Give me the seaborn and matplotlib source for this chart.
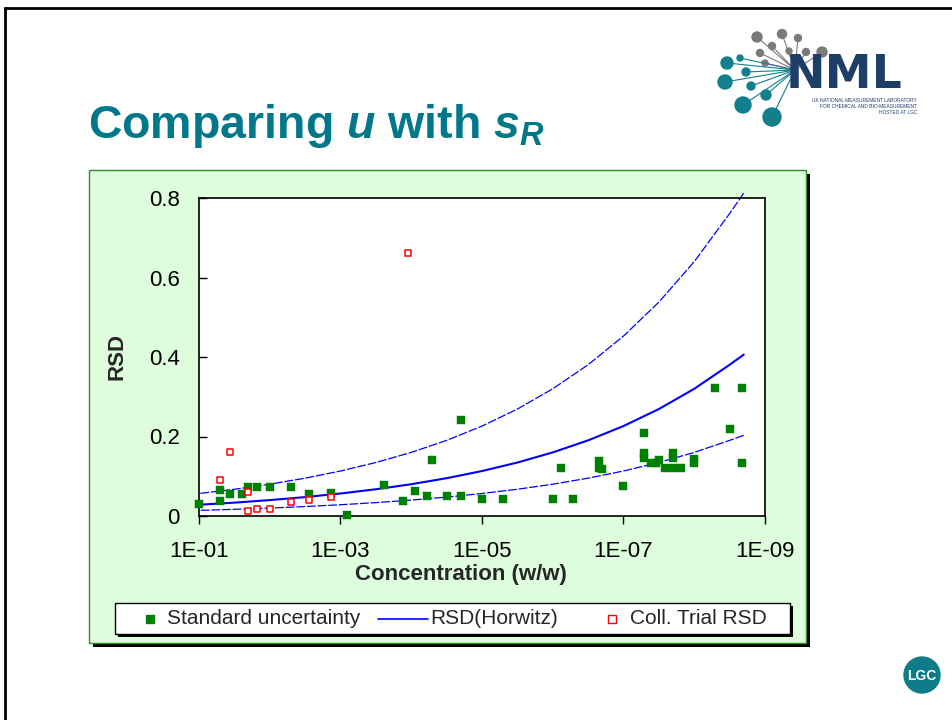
import numpy as np
import pandas as pd
import matplotlib
matplotlib.use("Agg")
import matplotlib.pyplot as plt
import seaborn as sns
from matplotlib.patches import Rectangle, Circle
from matplotlib.ticker import FixedLocator, FixedFormatter, NullLocator

# ---- data -------------------------------------------------------------
# Standard uncertainty (relative) against mass-fraction concentration
su_conc = [1.0e-1, 5.0e-2, 5.0e-2, 3.65e-2, 2.5e-2, 2.0e-2, 1.5e-2, 1.0e-2,
           5.0e-3, 2.75e-3, 1.35e-3, 8.1e-4, 2.45e-4, 1.29e-4, 8.9e-5, 6.0e-5,
           5.1e-5, 3.1e-5, 2.0e-5, 2.0e-5, 1.0e-5, 5.1e-6, 1.0e-6, 7.6e-7,
           5.1e-7, 2.2e-7, 2.2e-7, 2.0e-7, 1.0e-7, 5.1e-8, 5.1e-8, 5.1e-8,
           4.1e-8, 3.5e-8, 3.1e-8, 2.6e-8, 2.0e-8, 2.0e-8, 2.0e-8, 1.55e-8,
           1.0e-8, 1.0e-8, 5.1e-9, 3.1e-9, 2.1e-9, 2.1e-9]
su_rsd = [0.031, 0.065, 0.038, 0.055, 0.055, 0.072, 0.072, 0.072,
          0.072, 0.055, 0.057, 0.002, 0.077, 0.038, 0.063, 0.051,
          0.140, 0.051, 0.051, 0.241, 0.043, 0.043, 0.043, 0.122,
          0.043, 0.139, 0.122, 0.119, 0.076, 0.208, 0.159, 0.145,
          0.133, 0.133, 0.141, 0.120, 0.159, 0.145, 0.122, 0.121,
          0.144, 0.133, 0.321, 0.219, 0.321, 0.133]

# Collaborative trial reproducibility RSD
ct_conc = [5.0e-2, 3.65e-2, 2.0e-2, 2.0e-2, 1.5e-2, 1.0e-2, 5.0e-3, 2.75e-3,
           1.35e-3, 1.11e-4]
ct_rsd = [0.091, 0.160, 0.060, 0.013, 0.018, 0.018, 0.034, 0.039,
          0.048, 0.662]

# Horwitz RSD curve with its 2x and 0.5x bands
hz_conc = [1e-1, 3.16e-2, 1e-2, 3.16e-3, 1e-3, 3.16e-4, 1e-4, 3.16e-5,
           1e-5, 3.16e-6, 1e-6, 3.16e-7, 1e-7, 3.16e-8, 1e-8, 3.16e-9, 2e-9]
hz_rsd = [0.0283, 0.0336, 0.0400, 0.0476, 0.0566, 0.0673, 0.0800, 0.0951,
          0.1131, 0.1345, 0.1600, 0.1903, 0.2263, 0.2691, 0.3200, 0.3805,
          0.4060]
hz_upper = [0.0566, 0.0672, 0.0800, 0.0952, 0.1132, 0.1346, 0.1600, 0.1902,
            0.2262, 0.2690, 0.3200, 0.3806, 0.4526, 0.5382, 0.6400, 0.7610,
            0.8120]
hz_lower = [0.0142, 0.0168, 0.0200, 0.0238, 0.0283, 0.0337, 0.0400, 0.0476,
            0.0566, 0.0673, 0.0800, 0.0952, 0.1132, 0.1346, 0.1600, 0.1903,
            0.2030]

x_ticks = [1e-1, 1e-3, 1e-5, 1e-7, 1e-9]
x_tick_labels = ["1E-01", "1E-03", "1E-05", "1E-07", "1E-09"]
y_ticks = [0, 0.2, 0.4, 0.6, 0.8]
y_tick_labels = ["0", "0.2", "0.4", "0.6", "0.8"]

su_df = pd.DataFrame({"conc": su_conc, "rsd": su_rsd})
ct_df = pd.DataFrame({"conc": ct_conc, "rsd": ct_rsd})
hz_df = pd.DataFrame({"conc": hz_conc, "rsd": hz_rsd,
                      "upper": hz_upper, "lower": hz_lower})

# ---- style --------------------------------------------------------------
sns.set_style("white")
plt.rcParams["font.family"] = ["Liberation Sans", "DejaVu Sans"]
plt.rcParams["mathtext.fontset"] = "custom"
plt.rcParams["mathtext.it"] = "Liberation Sans:italic:bold"
plt.rcParams["mathtext.rm"] = "Liberation Sans:bold"
plt.rcParams["mathtext.bf"] = "Liberation Sans:bold"

TEAL = "#00788A"
NAVY = "#1E3E69"
GREEN = "#008000"
BLUE = "#0000FF"
RED = "#FF0000"

W, H = 953, 720
fig = plt.figure(figsize=(W / 100, H / 100), dpi=100)

# pixel-space canvas for the slide furniture
bg = fig.add_axes([0, 0, 1, 1], zorder=0)
bg.set_xlim(0, W)
bg.set_ylim(H, 0)
bg.axis("off")

# slide frame
bg.plot([4, W], [8, 8], color="black", lw=2.0, solid_capstyle="butt")
bg.plot([5, 5], [7, H], color="black", lw=2.0, solid_capstyle="butt")

# title
fig.text(88 / W, 1 - 138 / H, r"Comparing $u$ with $s_R$", fontsize=33.5,
         fontweight="bold", color=TEAL, va="baseline", ha="left")

# chart area with drop shadow
bg.add_patch(Rectangle((93, 174), 717, 473, facecolor="black", edgecolor="none"))
bg.add_patch(Rectangle((89, 170), 717, 473, facecolor="#DDFDDD",
                       edgecolor="#2E8B2E", lw=1))

# legend box with drop shadow
bg.add_patch(Rectangle((118, 606), 675, 31, facecolor="black", edgecolor="none"))
bg.add_patch(Rectangle((115, 603), 675, 31, facecolor="white",
                       edgecolor="black", lw=1))
ly = 618.5
bg.plot([150], [ly], marker="s", ms=6, color=GREEN, mec=GREEN, ls="none")
bg.text(167, ly, "Standard uncertainty", fontsize=15, va="center", ha="left")
bg.plot([378, 428], [ly, ly], color=BLUE, lw=1.2)
bg.text(430, ly, "RSD(Horwitz)", fontsize=15, va="center", ha="left")
bg.plot([612], [ly], marker="s", ms=5.5, mfc="white", mec=RED, mew=1.0, ls="none")
bg.text(630, ly, "Coll. Trial RSD", fontsize=15, va="center", ha="left")

# NML logo
hub = (795, 70)
grey_dots = [(757, 37, 5), (782, 34, 4.5), (798, 38, 3.5), (772, 46, 3.5),
             (806, 52, 3.5), (760, 53, 3.5), (789, 51, 3), (822, 52, 5),
             (765, 63, 3)]
teal_dots = [(727, 63, 6), (725, 82, 7), (743, 105, 8), (772, 117, 9),
             (766, 95, 5), (751, 86, 4), (746, 72, 4), (740, 58, 3)]
for x, y, r in grey_dots:
    bg.plot([x, hub[0]], [y, hub[1]], color="#7A7A7A", lw=0.8)
    bg.add_patch(Circle((x, y), r, color="#7A7A7A"))
for x, y, r in teal_dots:
    bg.plot([x, hub[0]], [y, hub[1]], color="#127F8C", lw=0.8)
    bg.add_patch(Circle((x, y), r, color="#127F8C"))
bg.add_patch(Circle(hub, 7, color="white"))
bg.text(786, 88, "NML", fontsize=34, fontweight="bold", color=NAVY,
        family="DejaVu Sans", ha="left", va="baseline")
for i, line in enumerate(["UK NATIONAL MEASUREMENT LABORATORY",
                          "FOR CHEMICAL AND BIO-MEASUREMENT",
                          "HOSTED AT LGC"]):
    bg.text(917, 101 + 6 * i, line, fontsize=3.5, color=NAVY,
            ha="right", va="center")

# LGC logo
bg.add_patch(Circle((922, 675), 18, color="#0E7C88"))
bg.text(922, 676, "LGC", fontsize=10, fontweight="bold", color="white",
        ha="center", va="center")

# ---- plot area ------------------------------------------------------------
ax = fig.add_axes([199 / W, 1 - 516 / H, 566 / W, 318 / H], zorder=1)
ax.set_facecolor("white")
ax.set_xscale("log")

sns.lineplot(data=hz_df, x="conc", y="upper", ax=ax, color=BLUE, lw=0.9,
             ls=(0, (7, 1.5)), clip_on=False, estimator=None)
sns.lineplot(data=hz_df, x="conc", y="lower", ax=ax, color=BLUE, lw=0.9,
             ls=(0, (7, 1.5)), clip_on=False, estimator=None)
sns.lineplot(data=hz_df, x="conc", y="rsd", ax=ax, color=BLUE, lw=1.5,
             estimator=None)
sns.scatterplot(data=su_df, x="conc", y="rsd", ax=ax, marker="s", s=40,
                color=GREEN, edgecolor=GREEN, linewidth=0.3, zorder=3,
                clip_on=False)
sns.scatterplot(data=ct_df, x="conc", y="rsd", ax=ax, marker="s", s=24,
                facecolor="white", edgecolor=RED, linewidth=1.1, zorder=4)

ax.set_xlim(1e-1, 1e-9)
ax.set_ylim(0, 0.8)
ax.xaxis.set_major_locator(FixedLocator(x_ticks))
ax.xaxis.set_major_formatter(FixedFormatter(x_tick_labels))
ax.xaxis.set_minor_locator(NullLocator())
ax.yaxis.set_major_locator(FixedLocator(y_ticks))
ax.yaxis.set_major_formatter(FixedFormatter(y_tick_labels))

ax.tick_params(axis="x", direction="out", length=6, width=1, pad=12,
               labelsize=16, colors="black")
ax.tick_params(axis="y", direction="in", length=6, width=1, pad=14,
               labelsize=16, colors="black", left=True)
ax.tick_params(axis="x", bottom=True)
for sp in ax.spines.values():
    sp.set_visible(True)
    sp.set_color("black")
    sp.set_linewidth(1.2)

ax.set_xlabel("Concentration (w/w)", fontsize=16, fontweight="bold")
ax.set_ylabel("RSD", fontsize=16, fontweight="bold")
ax.xaxis.set_label_coords((461 - 199) / 566, (516 - 564) / 318)
ax.yaxis.set_label_coords((128 - 199) / 566, 0.5)

fig.savefig("out.png", dpi=100)
